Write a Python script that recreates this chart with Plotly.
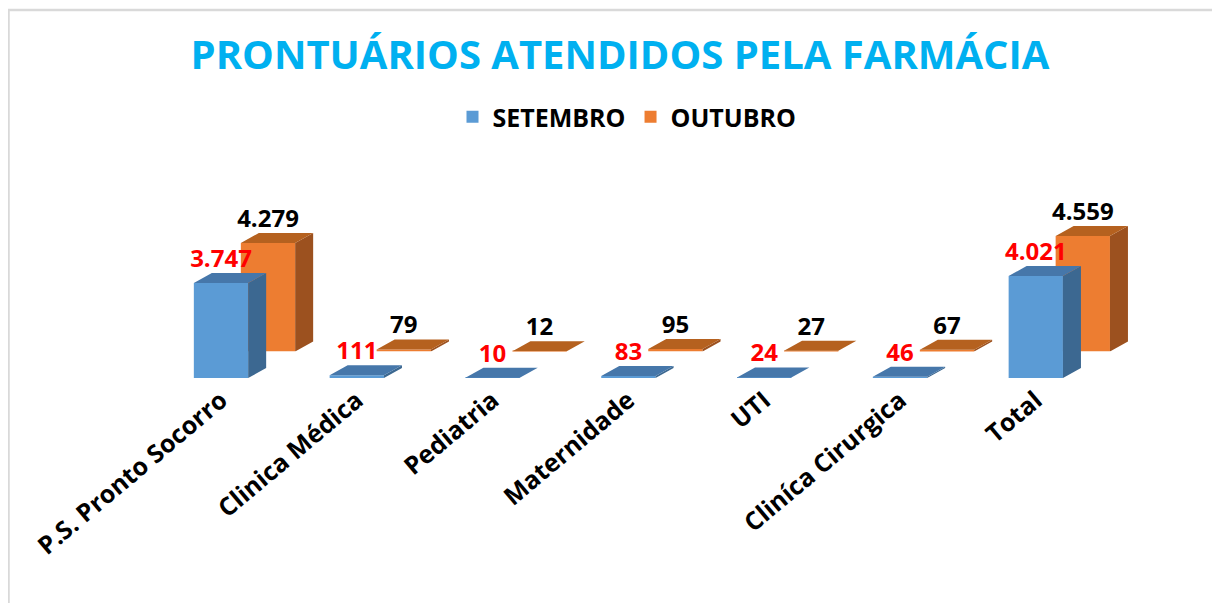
import plotly.graph_objects as go

# ---------------- data ----------------
categories = ["P.S. Pronto Socorro", "Clinica Médica", "Pediatria", "Maternidade",
              "UTI", "Clin\u00edca Cirurgica", "Total"]
setembro = [3747, 111, 10, 83, 24, 46, 4021]
outubro = [4279, 79, 12, 95, 27, 67, 4559]
series_names = ["SETEMBRO", "OUTUBRO"]
title_text = "PRONTUÁRIOS ATENDIDOS PELA FARMÁCIA"

# ---------------- geometry / style ----------------
OFF = 8                    # page body margin
W, H = 1220 - OFF, 603 - OFF
PXU = 95 / 3747.0          # pixels per data unit (vertical)
YMAX = 6000
CAT_PX = 135.8             # pixels per category
X0_PX = 221 - OFF          # centre of first (front) category
BAR_W = 0.4
DEPTH_X = 18 / CAT_PX      # 3-D depth in x units
DEPTH_Y = 10 / PXU         # 3-D depth in y units
BASE_FRONT = 378 - OFF     # baseline pixel of front (blue) series
SHIFT_X, SHIFT_Y = 47, 26.5

FONT = "Open Sans"
idx = list(range(len(categories)))


def xdom(center0):
    left = center0 - 0.5 * CAT_PX
    right = left + len(categories) * CAT_PX
    return [left / W, right / W]


def ydom(base):
    top = base - YMAX * PXU
    return [1 - base / H, 1 - top / H]


def faces(vals):
    sx, sy, tx, ty = [], [], [], []
    for i, v in zip(idx, vals):
        r = i + BAR_W / 2
        l = i - BAR_W / 2
        sx += [r, r + DEPTH_X, r + DEPTH_X, r, r, None]
        sy += [0, DEPTH_Y, v + DEPTH_Y, v, 0, None]
        tx += [l, r, r + DEPTH_X, l + DEPTH_X, l, None]
        ty += [v, v, v + DEPTH_Y, v + DEPTH_Y, v, None]
    return sx, sy, tx, ty


fig = go.Figure()

specs = [
    # (values, name, front, side, top, label colour, xaxis, yaxis, rank)
    (outubro, series_names[1], "#ED7D31", "#9C511F", "#B5611F", "black", "x", "y", 2),
    (setembro, series_names[0], "#5B9BD5", "#3C6891", "#4677AA", "red", "x2", "y2", 1),
]

for vals, name, cfront, cside, ctop, clab, xa, ya, rank in specs:
    fig.add_trace(go.Bar(x=idx, y=vals, width=BAR_W, name=name,
                         marker=dict(color=cfront, line=dict(width=0)),
                         xaxis=xa, yaxis=ya, legendrank=rank, hoverinfo="skip"))
    sx, sy, tx, ty = faces(vals)
    fig.add_trace(go.Scatter(x=sx, y=sy, fill="toself", fillcolor=cside, mode="lines",
                             line=dict(width=0, color=cside), showlegend=False,
                             xaxis=xa, yaxis=ya, hoverinfo="skip"))
    fig.add_trace(go.Scatter(x=tx, y=ty, fill="toself", fillcolor=ctop, mode="lines",
                             line=dict(width=0, color=ctop), showlegend=False,
                             xaxis=xa, yaxis=ya, hoverinfo="skip"))
    fig.add_trace(go.Scatter(x=idx, y=[v + DEPTH_Y for v in vals], mode="text",
                             customdata=vals, texttemplate="%{customdata:,}",
                             textposition="top center", cliponaxis=False,
                             textfont=dict(family=FONT, size=24, color=clab, weight="bold"),
                             showlegend=False, xaxis=xa, yaxis=ya, hoverinfo="skip"))

xr = [-0.5, len(categories) - 0.5]
fig.update_layout(
    width=W, height=H,
    margin=dict(l=0, r=0, t=0, b=0, autoexpand=False),
    paper_bgcolor="white", plot_bgcolor="rgba(0,0,0,0)",
    separators=",.",
    barmode="overlay",
    title=dict(text=title_text, x=(620 - OFF) / W, xanchor="center", xref="paper",
               y=1 - (55 - OFF) / H, yref="paper", yanchor="middle",
               font=dict(family=FONT, size=40, color="#00B0F0", weight="bold")),
    legend=dict(orientation="h", x=(627 - OFF) / W, xanchor="center", y=1 - (117 - OFF) / H,
                yanchor="middle", font=dict(family=FONT, size=25, color="black", weight="bold"),
                itemsizing="constant", traceorder="normal"),
    xaxis=dict(domain=xdom(X0_PX + SHIFT_X), range=xr, showgrid=False, zeroline=False,
               showticklabels=False, showline=False, fixedrange=True, automargin=False),
    yaxis=dict(domain=ydom(BASE_FRONT - SHIFT_Y), range=[0, YMAX], visible=False,
               automargin=False),
    xaxis2=dict(domain=xdom(X0_PX), range=xr, anchor="y2", showgrid=False, zeroline=False,
                showline=False, tickvals=idx, ticktext=categories, tickangle=-40,
                ticks="", automargin=False, ticklabelstandoff=2,
                tickfont=dict(family=FONT, size=25, color="black", weight="bold")),
    yaxis2=dict(domain=ydom(BASE_FRONT), range=[0, YMAX], anchor="x2", visible=False,
                automargin=False),
    shapes=[
        dict(type="line", xref="paper", yref="paper", x0=0, x1=1, y0=1 - (10 - OFF) / H,
             y1=1 - (10 - OFF) / H, line=dict(color="#D9D9D9", width=2.5)),
        dict(type="line", xref="paper", yref="paper", x0=0.5 / W, x1=0.5 / W, y0=0,
             y1=1 - (10 - OFF) / H, line=dict(color="#D9D9D9", width=2.5)),
    ],
)

fig.write_html("out.html")
